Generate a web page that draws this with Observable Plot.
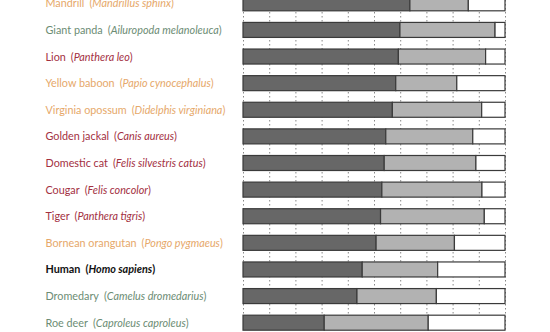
<!DOCTYPE html>
<html><head><meta charset="utf-8">
<script src="https://cdn.jsdelivr.net/npm/d3@7"></script>
<script src="https://cdn.jsdelivr.net/npm/@observablehq/plot@0.6"></script>
<style>body{margin:0;background:#fff}</style>
</head><body><div id="chart"></div>
<script>
const species = ["Mandrill","Giant panda","Lion","Yellow baboon","Virginia opossum","Golden jackal","Domestic cat","Cougar","Tiger","Bornean orangutan","Human","Dromedary","Roe deer"];
const scientific = ["Mandrillus sphinx","Ailuropoda melanoleuca","Panthera leo","Papio cynocephalus","Didelphis virginiana","Canis aureus","Felis silvestris catus","Felis concolor","Panthera tigris","Pongo pygmaeus","Homo sapiens","Camelus dromedarius","Caproleus caproleus"];
const groups = ["orange","green","red","orange","orange","red","red","red","red","orange","human","green","green"];
const darkShare = [63.7,59.9,59.3,58.3,57.0,54.5,53.9,53.0,52.5,50.8,45.5,43.5,31.0];
const lightEnd = [86.0,96.2,92.6,81.6,91.1,87.7,88.9,91.2,92.1,80.7,74.3,73.8,70.7];
const gridTicks = [0,10,20,30,40,50,60,70,80,90,100];

const groupColor = {orange:"#e6a86a", green:"#6c8c74", red:"#a3303f", human:"#111"};

const segs = [];
species.forEach((s,i)=>{
  segs.push({s, part:"a", x1:0, x2:darkShare[i]});
  segs.push({s, part:"b", x1:darkShare[i], x2:lightEnd[i]});
  segs.push({s, part:"c", x1:lightEnd[i], x2:100});
});

const chart = Plot.plot({
  width: 550, height: 332,
  marginLeft: 243, marginRight: 45, marginTop: 0, marginBottom: 0,
  style: {fontFamily: "Lato, 'Open Sans', sans-serif", fontSize: "10.8px", background: "#fff"},
  x: {domain: [0,100], axis: null},
  y: {domain: species, range: [-10, 336], paddingInner: 0.436, paddingOuter: 0.218, round: false, axis: null},
  color: {domain: ["a","b","c"], range: ["#676767","#b2b2b2","#ffffff"]},
  marks: [
    Plot.ruleX(gridTicks, {x: d=>d, stroke: "#888", strokeWidth: 1, strokeDasharray: "1.5,2.5"}),
    Plot.barX(segs, {y: "s", x1: "x1", x2: "x2", fill: "part", stroke: "#3a3a3a", strokeWidth: 1.2}),
    Plot.axisY({tickSize: 0, tickPadding: 0, textAnchor: "start", dx: -198, label: null})
  ]
});
document.getElementById("chart").appendChild(chart);

d3.select(chart).selectAll('[aria-label="y-axis tick label"] text').each(function(){
  const t = d3.select(this);
  const name = t.text();
  const i = species.indexOf(name);
  if (i < 0) return;
  const col = groupColor[groups[i]];
  t.text(null).attr("fill", col).style("fill", col);
  if (groups[i] === "human") t.attr("font-weight", "bold");
  t.append("tspan").text(name);
  t.append("tspan").attr("dx", 5).text("(");
  t.append("tspan").attr("font-style","italic").text(scientific[i]);
  t.append("tspan").text(")");
});
</script>
</body></html>
